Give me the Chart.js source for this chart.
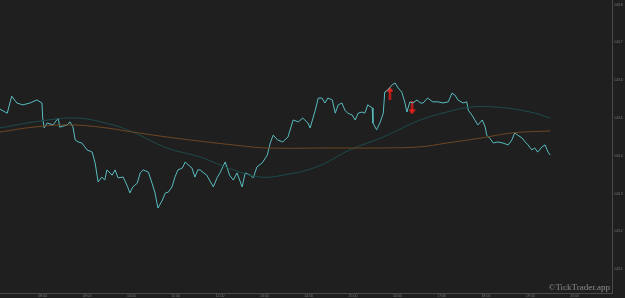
<!DOCTYPE html>
<html>
<head>
<meta charset="utf-8">
<script src="https://cdn.jsdelivr.net/npm/chart.js@4.4.1/dist/chart.umd.min.js"></script>
<style>
  html, body { margin: 0; padding: 0; background: #1f1f1f; }
  #wrap { width: 625px; height: 298px; }
</style>
</head>
<body>
<div id="wrap"><canvas id="priceChart"></canvas></div>
<script>
// time axis: minutes after 07:00
const hourLabels = ['08:00', '09:00', '10:00', '11:00', '12:00', '13:00', '14:00',
                    '15:00', '16:00', '17:00', '18:00', '19:00', '20:00'];
const priceTicks = [143.8, 143.7, 143.6, 143.5, 143.4, 143.3, 143.2, 143.1];

const priceTime = [2, 9, 12, 18, 25, 33, 43, 52, 59, 60, 62, 66, 74, 81, 83, 93, 97, 101, 104, 108,
  113, 120, 127, 131, 135, 140, 144, 147, 154, 158, 162, 169, 175, 178, 182, 188, 192, 196, 203, 208,
  212, 216, 222, 226, 230, 235, 239, 243, 249, 253, 257, 262, 266, 270, 273, 282, 291, 296, 300, 307,
  313, 318, 323, 330, 334, 341, 345, 350, 357, 364, 368, 372, 378, 385, 392, 399, 406, 412, 419, 422,
  429, 433, 438, 442, 446, 452, 456, 460, 465, 469, 473, 479, 483, 487, 492, 496, 500, 506, 507, 512,
  517, 521, 523, 527, 533, 537, 541, 546, 550, 553, 557, 561, 567, 571, 575, 581, 588, 595, 602, 609,
  614, 618, 622, 629, 634, 636, 641, 645, 649, 655, 659, 661, 665, 670, 676, 683, 690, 695, 699, 703,
  709, 713, 717, 722, 726, 730, 736, 740, 744, 747];
const priceClose = [143.524, 143.516, 143.513, 143.558, 143.540, 143.535, 143.540, 143.548, 143.540, 143.500,
  143.474, 143.487, 143.482, 143.500, 143.476, 143.482, 143.490, 143.476, 143.442, 143.437,
  143.434, 143.416, 143.410, 143.381, 143.331, 143.344, 143.336, 143.363, 143.349, 143.363,
  143.342, 143.344, 143.318, 143.302, 143.318, 143.328, 143.355, 143.363, 143.357, 143.328,
  143.302, 143.262, 143.283, 143.302, 143.304, 143.318, 143.344, 143.363, 143.368, 143.384,
  143.376, 143.368, 143.344, 143.363, 143.363, 143.349, 143.318, 143.342, 143.355, 143.384,
  143.349, 143.336, 143.355, 143.318, 143.355, 143.349, 143.342, 143.371, 143.381, 143.402,
  143.434, 143.455, 143.442, 143.437, 143.450, 143.495, 143.490, 143.500, 143.487, 143.474,
  143.521, 143.553, 143.553, 143.540, 143.553, 143.548, 143.513, 143.535, 143.540, 143.521,
  143.513, 143.508, 143.495, 143.513, 143.516, 143.513, 143.535, 143.527, 143.487, 143.469,
  143.490, 143.513, 143.569, 143.574, 143.588, 143.593, 143.580, 143.569, 143.543, 143.516,
  143.543, 143.540, 143.548, 143.540, 143.540, 143.553, 143.543, 143.543, 143.540, 143.543,
  143.566, 143.561, 143.548, 143.540, 143.543, 143.521, 143.508, 143.495, 143.482, 143.495,
  143.476, 143.455, 143.447, 143.434, 143.437, 143.434, 143.429, 143.442, 143.461, 143.455,
  143.447, 143.437, 143.429, 143.416, 143.421, 143.410, 143.424, 143.429, 143.410, 143.402];

// slow moving average (teal)
const slowTime = [2, 56, 106, 151, 182, 228, 273, 318, 354, 385, 431, 476, 521, 571, 607, 638, 675, 720, 747];
const slowMa = [143.474, 143.492, 143.500, 143.484, 143.463, 143.421, 143.397, 143.363, 143.344, 143.349,
  143.371, 143.416, 143.450, 143.495, 143.516, 143.529, 143.529, 143.516, 143.500];

// long moving average (orange)
const longTime = [2, 47, 93, 138, 182, 228, 273, 318, 364, 453, 521, 571, 607, 652, 697, 747];
const longMa = [143.463, 143.476, 143.482, 143.476, 143.463, 143.450, 143.439, 143.429, 143.421, 143.421,
  143.421, 143.424, 143.434, 143.447, 143.461, 143.466];

// trade signals
const buyTime = [530];
const buyPrice = [143.566];
const sellTime = [560];
const sellPrice = [143.527];

function pairs(xs, ys) {
  return xs.map((x, i) => ({ x: x, y: ys[i] }));
}

function makeArrow(up) {
  const c = document.createElement('canvas');
  c.width = 7; c.height = 13;
  const g = c.getContext('2d');
  g.fillStyle = '#e8201c';
  g.save();
  if (!up) { g.translate(7, 13); g.rotate(Math.PI); }
  g.beginPath();
  g.moveTo(3.5, 0); g.lineTo(7, 5); g.lineTo(4.5, 5); g.lineTo(4.5, 13);
  g.lineTo(2.5, 13); g.lineTo(2.5, 5); g.lineTo(0, 5); g.closePath();
  g.fill();
  g.restore();
  return c;
}

const bgPlugin = {
  id: 'bg',
  beforeDraw(chart) {
    const ctx = chart.ctx;
    ctx.save();
    ctx.fillStyle = '#1f1f1f';
    ctx.fillRect(0, 0, chart.width, chart.height);
    ctx.restore();
  },
  afterDraw(chart) {
    const ctx = chart.ctx;
    const a = chart.chartArea;
    ctx.save();
    ctx.font = '9px "Liberation Serif", "DejaVu Serif", serif';
    ctx.fillStyle = '#8c8c8c';
    ctx.textAlign = 'right';
    ctx.textBaseline = 'alphabetic';
    ctx.fillText('\u00A9TickTrader.app', a.right - 2, a.bottom - 3);
    ctx.restore();
  }
};

// no extra label padding around the plot
function noPad(axis) {
  axis.paddingLeft = 0;
  axis.paddingRight = 0;
  axis.paddingTop = 0;
  axis.paddingBottom = 0;
}

const ctx = document.getElementById('priceChart').getContext('2d');
const chart = new Chart(ctx, {
  type: 'line',
  data: {
    datasets: [
      {
        label: 'MA long',
        data: pairs(longTime, longMa),
        borderColor: '#6e4722',
        borderWidth: 1,
        pointRadius: 0,
        tension: 0.4,
        fill: false
      },
      {
        label: 'MA slow',
        data: pairs(slowTime, slowMa),
        borderColor: '#1d4b4c',
        borderWidth: 1,
        pointRadius: 0,
        tension: 0.4,
        fill: false
      },
      {
        label: 'Price',
        data: pairs(priceTime, priceClose),
        borderColor: '#58bcc0',
        borderWidth: 1,
        pointRadius: 0,
        tension: 0,
        fill: false
      },
      {
        label: 'Buy',
        type: 'scatter',
        data: pairs(buyTime, buyPrice),
        pointStyle: makeArrow(true),
        pointRadius: 6
      },
      {
        label: 'Sell',
        type: 'scatter',
        data: pairs(sellTime, sellPrice),
        pointStyle: makeArrow(false),
        pointRadius: 6
      }
    ]
  },
  options: {
    responsive: true,
    maintainAspectRatio: false,
    animation: false,
    layout: { padding: 0, autoPadding: false },
    plugins: {
      legend: { display: false },
      tooltip: { enabled: false }
    },
    scales: {
      x: {
        type: 'linear',
        min: 2.2,
        max: 830.6,
        afterBuildTicks(axis) {
          axis.ticks = hourLabels.map((l, i) => ({ value: 60 * (i + 1) }));
        },
        afterFit(axis) { axis.height = 5; noPad(axis); },
        grid: { display: false, drawTicks: false },
        border: { color: '#4a4a4a', width: 1 },
        ticks: {
          color: '#7a7a7a',
          font: { size: 3.5 },
          padding: 1,
          maxRotation: 0,
          autoSkip: false,
          callback: (v) => hourLabels[Math.round(v / 60) - 1]
        }
      },
      y: {
        position: 'right',
        min: 143.0373,
        max: 143.8124,
        afterBuildTicks(axis) {
          axis.ticks = priceTicks.map(v => ({ value: v }));
        },
        afterFit(axis) { axis.width = 13; noPad(axis); },
        grid: { display: false, drawTicks: false },
        border: { color: '#4a4a4a', width: 1 },
        ticks: {
          color: '#7a7a7a',
          font: { size: 3.5 },
          padding: 2,
          callback: (v) => v.toFixed(1)
        }
      }
    }
  },
  plugins: [bgPlugin]
});
</script>
</body>
</html>
